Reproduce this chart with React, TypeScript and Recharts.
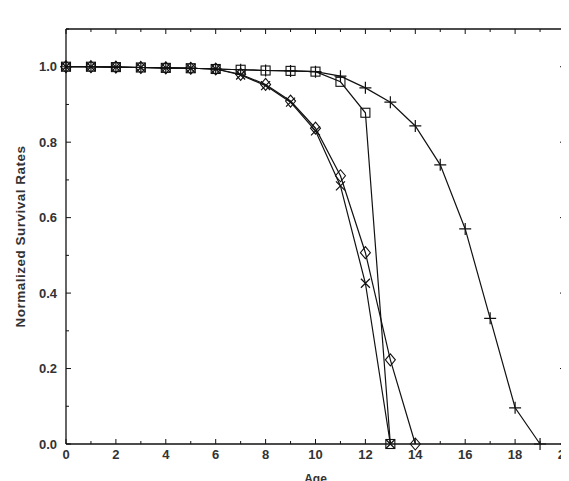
import React from 'react';
import { LineChart, Line, XAxis, YAxis } from 'recharts';

// survival rates
const squareAges = [0, 1, 2, 3, 4, 5, 6, 7, 8, 9, 10, 11, 12, 13];
const squareRates = [1.0, 1.0, 0.999, 0.998, 0.997, 0.996, 0.994, 0.992, 0.99, 0.989, 0.987, 0.96, 0.878, 0.0];

const plusAges = [0, 1, 2, 3, 4, 5, 6, 7, 8, 9, 10, 11, 12, 13, 14, 15, 16, 17, 18, 19];
const plusRates = [1.0, 1.0, 0.999, 0.998, 0.997, 0.996, 0.994, 0.992, 0.99, 0.989, 0.987, 0.975, 0.944, 0.906, 0.843, 0.74, 0.57, 0.333, 0.096, 0.0];

const diamondAges = [0, 1, 2, 3, 4, 5, 6, 7, 8, 9, 10, 11, 12, 13, 14];
const diamondRates = [1.0, 1.0, 0.999, 0.998, 0.997, 0.996, 0.994, 0.98, 0.953, 0.909, 0.837, 0.711, 0.507, 0.223, 0.0];

const crossAges = [0, 1, 2, 3, 4, 5, 6, 7, 8, 9, 10, 11, 12, 13];
const crossRates = [1.0, 1.0, 0.999, 0.998, 0.997, 0.996, 0.994, 0.978, 0.95, 0.906, 0.83, 0.684, 0.426, 0.0];

// every tick mark; labels only on the even ones
const xTicks = [0, 1, 2, 3, 4, 5, 6, 7, 8, 9, 10, 11, 12, 13, 14, 15, 16, 17, 18, 19, 20];
const yTicks = [0, 0.1, 0.2, 0.3, 0.4, 0.5, 0.6, 0.7, 0.8, 0.9, 1.0, 1.1];

const toRows = (ages: number[], rates: number[]) => ages.map((age, i) => ({ age, rate: rates[i] }));

const FONT = '"Liberation Sans", Arial, sans-serif';
const INK = '#111';
const LABEL = '#333';

const isMajorX = (v: number) => Math.round(v) % 2 === 0;
const isMajorY = (v: number) => Math.round(v * 10) % 2 === 0;

const BottomTick = (props: any) => {
  const { x, y, payload } = props;
  const major = isMajorX(payload.value);
  return (
    <g>
      <line x1={x} y1={y} x2={x} y2={y - (major ? 5 : 3)} stroke={INK} />
      {major && (
        <text x={x} y={y + 6} dy="0.71em" textAnchor="middle" fontFamily={FONT} fontSize={13} fontWeight={700} fill={LABEL}>
          {payload.value}
        </text>
      )}
    </g>
  );
};

const TopTick = (props: any) => {
  const { x, y, payload } = props;
  return <line x1={x} y1={y} x2={x} y2={y + (isMajorX(payload.value) ? 5 : 3)} stroke={INK} />;
};

const LeftTick = (props: any) => {
  const { x, y, payload } = props;
  const major = isMajorY(payload.value);
  return (
    <g>
      <line x1={x} y1={y} x2={x + (major ? 5 : 3)} y2={y} stroke={INK} />
      {major && (
        <text x={x - 9} y={y} dy="0.355em" textAnchor="end" fontFamily={FONT} fontSize={13} fontWeight={700} fill={LABEL}>
          {Number(payload.value).toFixed(1)}
        </text>
      )}
    </g>
  );
};

const RightTick = (props: any) => {
  const { x, y, payload } = props;
  return <line x1={x} y1={y} x2={x - (isMajorY(payload.value) ? 5 : 3)} y2={y} stroke={INK} />;
};

const SquareDot = (props: any) => {
  const { cx, cy, index } = props;
  if (cx == null || cy == null) return <g key={`s${index}`} />;
  return <rect key={`s${index}`} x={cx - 4.5} y={cy - 4.5} width={9} height={9} fill="none" stroke={INK} strokeWidth={1.1} />;
};

const PlusDot = (props: any) => {
  const { cx, cy, index } = props;
  if (cx == null || cy == null) return <g key={`p${index}`} />;
  return (
    <path key={`p${index}`} d={`M${cx - 6},${cy}H${cx + 6}M${cx},${cy - 6}V${cy + 6}`} stroke={INK} strokeWidth={1.2} fill="none" />
  );
};

const DiamondDot = (props: any) => {
  const { cx, cy, index } = props;
  if (cx == null || cy == null) return <g key={`d${index}`} />;
  return (
    <path key={`d${index}`} d={`M${cx},${cy - 6}L${cx + 5},${cy}L${cx},${cy + 6}L${cx - 5},${cy}Z`} stroke={INK} strokeWidth={1.1} fill="none" />
  );
};

const CrossDot = (props: any) => {
  const { cx, cy, index } = props;
  if (cx == null || cy == null) return <g key={`c${index}`} />;
  return (
    <path key={`c${index}`} d={`M${cx - 4.5},${cy - 4.5}L${cx + 4.5},${cy + 4.5}M${cx - 4.5},${cy + 4.5}L${cx + 4.5},${cy - 4.5}`} stroke={INK} strokeWidth={1.2} fill="none" />
  );
};

const frame = { stroke: INK, strokeWidth: 1.3 };
const titleStyle = { fontFamily: FONT, fontWeight: 700, fill: LABEL };

export default function App() {
  return (
    <div style={{ width: 561, height: 473, background: '#fff' }}>
      <LineChart width={561} height={473} margin={{ top: 21, right: 4, bottom: 0, left: 0 }}>
        <XAxis
          xAxisId="b"
          type="number"
          dataKey="age"
          domain={[0, 20]}
          ticks={xTicks}
          interval={0}
          height={37}
          tickLine={false}
          tickSize={0}
          tickMargin={0}
          axisLine={frame}
          tick={BottomTick}
          label={{ value: 'Age', position: 'insideBottom', offset: -2, style: { ...titleStyle, fontSize: 12 } }}
        />
        <YAxis
          yAxisId="l"
          type="number"
          domain={[0, 1.1]}
          ticks={yTicks}
          interval={0}
          width={58}
          tickLine={false}
          tickSize={0}
          tickMargin={0}
          axisLine={frame}
          tick={LeftTick}
          label={{ value: 'Normalized Survival Rates', angle: -90, position: 'insideLeft', offset: 12, style: { ...titleStyle, fontSize: 13.5, letterSpacing: 0.5, textAnchor: 'middle' } }}
        />
        {/* top / right frame, carrying the + series so they get a scale */}
        <XAxis xAxisId="t" orientation="top" mirror type="number" dataKey="age" domain={[0, 20]} ticks={xTicks} interval={0} tickLine={false} tickSize={0} tickMargin={0} axisLine={frame} tick={TopTick} />
        <YAxis yAxisId="r" orientation="right" mirror type="number" domain={[0, 1.1]} ticks={yTicks} interval={0} tickLine={false} tickSize={0} tickMargin={0} axisLine={frame} tick={RightTick} />

        <Line xAxisId="t" yAxisId="r" data={toRows(plusAges, plusRates)} dataKey="rate" type="linear" stroke={INK} strokeWidth={1.2} dot={PlusDot} isAnimationActive={false} />
        <Line xAxisId="b" yAxisId="l" data={toRows(squareAges, squareRates)} dataKey="rate" type="linear" stroke={INK} strokeWidth={1.2} dot={SquareDot} isAnimationActive={false} />
        <Line xAxisId="b" yAxisId="l" data={toRows(diamondAges, diamondRates)} dataKey="rate" type="linear" stroke={INK} strokeWidth={1.2} dot={DiamondDot} isAnimationActive={false} />
        <Line xAxisId="b" yAxisId="l" data={toRows(crossAges, crossRates)} dataKey="rate" type="linear" stroke={INK} strokeWidth={1.2} dot={CrossDot} isAnimationActive={false} />
      </LineChart>
    </div>
  );
}
